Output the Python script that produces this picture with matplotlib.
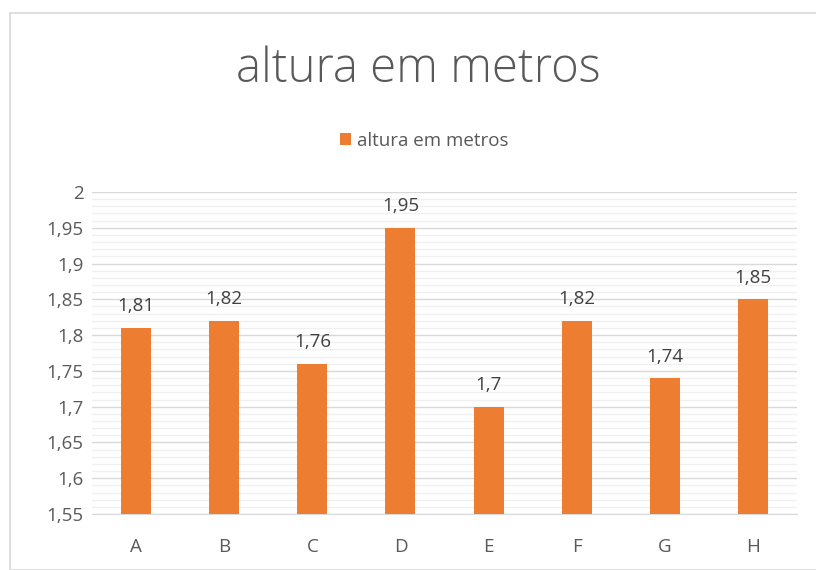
import matplotlib
matplotlib.use("Agg")
import matplotlib.pyplot as plt
from matplotlib.patches import Rectangle
from matplotlib.ticker import MultipleLocator, FuncFormatter

categories = ["A", "B", "C", "D", "E", "F", "G", "H"]
values = [1.81, 1.82, 1.76, 1.95, 1.70, 1.82, 1.74, 1.85]
series_name = "altura em metros"
title = "altura em metros"

W, H = 816, 570
fig = plt.figure(figsize=(W / 100, H / 100), dpi=100)
fig.patch.set_facecolor("white")
plt.rcParams["font.family"] = ["Open Sans", "DejaVu Sans"]

# chart frame
fig.patches.append(Rectangle((10 / W, 0 / H), (W - 8) / W, (H - 13) / H,
                             transform=fig.transFigure, fill=False,
                             edgecolor="#D9D9D9", linewidth=1.2))

left, right, top, bottom = 92, 797, 192, 514
ax = fig.add_axes([left / W, 1 - bottom / H, (right - left) / W, (bottom - top) / H])
x = range(len(categories))
bars = ax.bar(x, values, width=0.34, color="#ED7D31", zorder=3, label=series_name)
ax.set_ylim(1.55, 2.0)
ax.set_xlim(-0.5, len(categories) - 0.5)
ax.yaxis.set_major_locator(MultipleLocator(0.05))
ax.yaxis.set_minor_locator(MultipleLocator(0.01))
ax.yaxis.set_major_formatter(FuncFormatter(lambda v, p: f"{v:.2f}".rstrip("0").rstrip(".").replace(".", ",")))
ax.grid(which="major", axis="y", color="#D9D9D9", linewidth=1.0, zorder=0)
ax.grid(which="minor", axis="y", color="#F0F0F0", linewidth=1.0, zorder=0)
ax.set_xticks(list(x))
ax.set_xticklabels(categories)
for s in ["top", "right", "left"]:
    ax.spines[s].set_visible(False)
ax.spines["bottom"].set_color("#D9D9D9")
ax.tick_params(axis="both", which="both", length=0, colors="#595959", labelsize=13.5)
ax.tick_params(axis="x", pad=17)
ax.tick_params(axis="y", pad=6)

for xi, v in zip(x, values):
    lbl = f"{v:.2f}".rstrip("0").rstrip(".").replace(".", ",")
    ax.annotate(lbl, (xi, v), xytext=(0, 9), textcoords="offset points",
                ha="center", va="bottom", fontsize=13.5, color="#404040")

fig.text(418 / W, 1 - 70 / H, title, ha="center", va="center", fontsize=34,
         color="#595959", fontweight="light")

leg = fig.legend(handles=[bars], labels=[series_name], loc="center",
                 bbox_to_anchor=(424 / W, 1 - 141 / H), frameon=False, fontsize=13.5,
                 handlelength=0.6, handleheight=0.6, handletextpad=0.3)
for t in leg.get_texts():
    t.set_color("#595959")

fig.savefig("out.png", dpi=100, facecolor="white")
